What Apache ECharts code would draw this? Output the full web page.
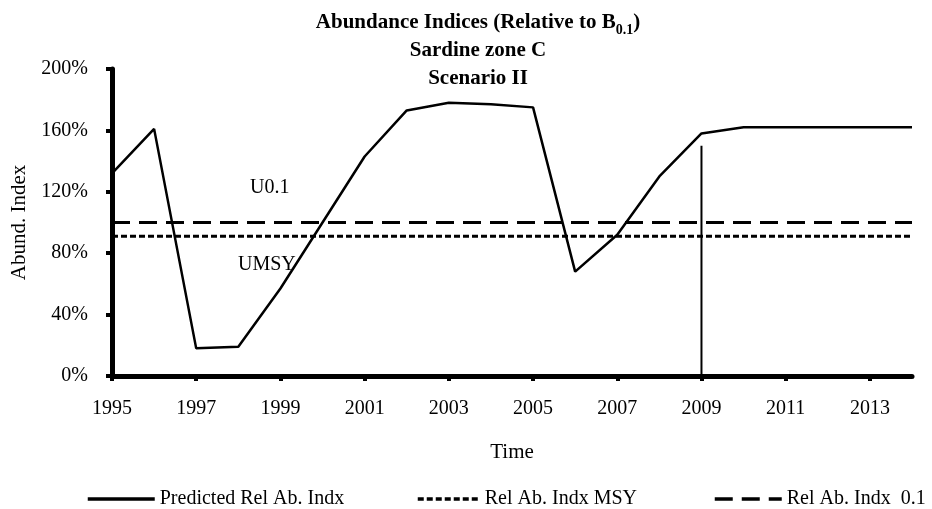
<!DOCTYPE html>
<html>
<head>
<meta charset="utf-8">
<script src="https://cdn.jsdelivr.net/npm/echarts@6/dist/echarts.min.js"></script>
<style>
  html, body { margin: 0; padding: 0; background: #fff; }
  #chart { width: 932px; height: 509px; }
</style>
</head>
<body>
<div id="chart"></div>
<script>
var years = ['1995','1996','1997','1998','1999','2000','2001','2002','2003','2004',
             '2005','2006','2007','2008','2009','2010','2011','2012','2013','2014'];
var predicted = [132, 161, 18, 19, 57, 100, 143, 173, 178, 177,
                 175, 68, 92, 130, 158, 162, 162, 162, 162, 162];
var msyLevel = 91;
var refLevel = 100;
var markYear = '2009';
var markTop = 150;
var yTicks = [0, 40, 80, 120, 160, 200];

var serif = 'Liberation Serif, Times New Roman, serif';

function drawChart() {
  var myChart = echarts.init(document.getElementById('chart'));
  var first = years[0], last = years[years.length - 1];
  var legendText = { fontFamily: serif, fontSize: 20, color: '#000' };
  // hide the round symbol echarts puts in the middle of line legend icons
  var legendBase = { top: 484, itemHeight: 14, itemStyle: { opacity: 0 }, lineStyle: { width: 3.5 }, textStyle: legendText };
  var option = {
    animation: false,
    backgroundColor: '#fff',
    title: {
      left: 473,
      top: 4,
      textAlign: 'center',
      text: '{a|Abundance Indices (Relative to B}{s|0.1}{a|)}\n{a|Sardine zone C}\n{a|Scenario II}',
      textStyle: {
        rich: {
          a: { fontFamily: serif, fontSize: 21, fontWeight: 'bold', color: '#000', lineHeight: 28 },
          s: { fontFamily: serif, fontSize: 14, fontWeight: 'bold', color: '#000', lineHeight: 12, verticalAlign: 'bottom' }
        }
      }
    },
    grid: { left: 112, right: 20, top: 69, bottom: 133, containLabel: false },
    legend: [
      echarts.util.extend({ data: ['Predicted Rel Ab. Indx'], left: 81, itemWidth: 67 }, legendBase),
      echarts.util.extend({ data: ['Rel Ab. Indx MSY'], left: 411, itemWidth: 62 }, legendBase),
      echarts.util.extend({ data: ['Rel Ab. Indx  0.1'], left: 708, itemWidth: 67 }, legendBase)
    ],
    xAxis: {
      type: 'category',
      data: years,
      boundaryGap: false,
      name: 'Time',
      nameLocation: 'middle',
      nameGap: 66,
      nameTextStyle: { fontFamily: serif, fontSize: 21, color: '#000' },
      axisLine: { lineStyle: { color: '#000', width: 5 } },
      axisTick: { interval: 1, length: 5, lineStyle: { color: '#000', width: 4 } },
      axisLabel: { interval: 1, margin: 23, fontFamily: serif, fontSize: 20, color: '#000' },
      splitLine: { show: false }
    },
    yAxis: {
      type: 'value',
      min: yTicks[0],
      max: yTicks[yTicks.length - 1],
      interval: yTicks[1] - yTicks[0],
      name: 'Abund. Index',
      nameLocation: 'middle',
      nameGap: 68,
      nameTextStyle: { fontFamily: serif, fontSize: 21, color: '#000' },
      axisLine: { show: true, lineStyle: { color: '#000', width: 5 } },
      axisTick: { show: true, length: 6, lineStyle: { color: '#000', width: 4 } },
      axisLabel: { margin: 24, fontFamily: serif, fontSize: 20, color: '#000', formatter: '{value}%' },
      splitLine: { show: false }
    },
    graphic: [
      { type: 'text', left: 250, top: 178, style: { text: 'U0.1', font: '20px ' + serif, fill: '#000' } },
      { type: 'text', left: 238, top: 255, style: { text: 'UMSY', font: '20px ' + serif, fill: '#000' } }
    ],
    series: [
      {
        name: 'Predicted Rel Ab. Indx',
        type: 'line',
        data: predicted,
        symbol: 'none',
        lineStyle: { color: '#000', width: 2.5 },
        itemStyle: { color: '#000' },
        z: 4
      },
      {
        name: 'Rel Ab. Indx MSY',
        type: 'line',
        data: [[first, msyLevel], [last, msyLevel]],
        symbol: 'none',
        lineStyle: { color: '#000', width: 3, type: [6, 3] },
        itemStyle: { color: '#000' }
      },
      {
        name: 'Rel Ab. Indx  0.1',
        type: 'line',
        data: [[first, refLevel], [last, refLevel]],
        symbol: 'none',
        lineStyle: { color: '#000', width: 3, type: [18, 9] },
        itemStyle: { color: '#000' }
      },
      {
        name: 'marker',
        type: 'line',
        data: [[markYear, 0], [markYear, markTop]],
        symbol: 'none',
        lineStyle: { color: '#000', width: 2 },
        itemStyle: { color: '#000' }
      }
    ]
  };
  myChart.setOption(option);
}
drawChart();
</script>
</body>
</html>
